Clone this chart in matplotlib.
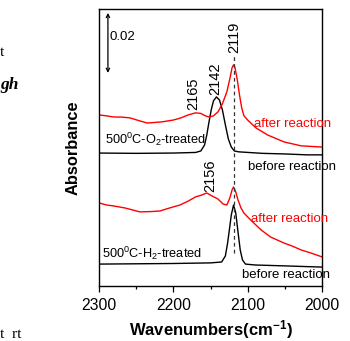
import matplotlib
matplotlib.use("Agg")
import matplotlib.pyplot as plt
from matplotlib.ticker import MultipleLocator

plt.rcParams['font.family'] = ['Liberation Sans', 'DejaVu Sans']
plt.rcParams['mathtext.fontset'] = 'custom'
plt.rcParams['mathtext.rm'] = 'Liberation Sans'
plt.rcParams['mathtext.it'] = 'Liberation Sans:italic'
plt.rcParams['mathtext.bf'] = 'Liberation Sans:bold'

# ---- data (wavenumber cm-1, absorbance) ----
o2_before_wn = [2300, 2250, 2200, 2170, 2163, 2158, 2155, 2152, 2149, 2146, 2142, 2138, 2134,
                2130, 2126, 2122, 2118, 2112, 2080, 2050, 2020, 2000]
o2_before_ab = [0.0443, 0.0442, 0.0443, 0.0445, 0.0450, 0.0470, 0.0503, 0.0547, 0.0587, 0.0617,
                0.0630, 0.0620, 0.0587, 0.0537, 0.0490, 0.0463, 0.0450, 0.0447, 0.0442, 0.0440,
                0.0437, 0.0437]

o2_after_wn = [2300, 2290, 2280, 2270, 2258, 2245, 2235, 2225, 2215, 2200, 2190, 2180, 2170,
               2163, 2157, 2152, 2146, 2140, 2134, 2128, 2124, 2121, 2119, 2117, 2114, 2111,
               2108, 2105, 2100, 2089, 2073, 2051, 2028, 2000]
o2_after_ab = [0.0570, 0.0567, 0.0563, 0.0563, 0.0560, 0.0550, 0.0543, 0.0545, 0.0547, 0.0553,
               0.0560, 0.0570, 0.0577, 0.0575, 0.0567, 0.0563, 0.0567, 0.0580, 0.0607, 0.0647,
               0.0690, 0.0727, 0.0737, 0.0727, 0.0687, 0.0637, 0.0593, 0.0567, 0.0553, 0.0527,
               0.0503, 0.0480, 0.0467, 0.0463]

h2_before_wn = [2300, 2200, 2150, 2135, 2130, 2127, 2125, 2122, 2119, 2116, 2113, 2110, 2107,
                2103, 2090, 2050, 2000]
h2_before_ab = [0.0073, 0.0075, 0.0077, 0.0080, 0.0100, 0.0143, 0.0180, 0.0237, 0.0270, 0.0243,
                0.0180, 0.0120, 0.0087, 0.0073, 0.0070, 0.0067, 0.0063]

h2_after_wn = [2300, 2290, 2281, 2265, 2245, 2230, 2218, 2205, 2191, 2180, 2170, 2162, 2155,
               2148, 2140, 2133, 2128, 2124, 2121, 2119, 2116, 2113, 2109, 2105, 2096, 2082,
               2069, 2051, 2040, 2028, 2015, 2000]
h2_after_ab = [0.0277, 0.0270, 0.0267, 0.0260, 0.0247, 0.0248, 0.0250, 0.0260, 0.0270, 0.0283,
               0.0297, 0.0303, 0.0310, 0.0300, 0.0290, 0.0273, 0.0270, 0.0293, 0.0320, 0.0330,
               0.0313, 0.0287, 0.0260, 0.0243, 0.0220, 0.0187, 0.0163, 0.0143, 0.0133, 0.0120,
               0.0110, 0.0097]

peak_labels = ["2165", "2142", "2119", "2156"]
peak_label_wn = [2173, 2143, 2118, 2150]
peak_label_ab = [0.0587, 0.0637, 0.0777, 0.0313]

xticks = [2300, 2200, 2100, 2000]
scale_bar = 0.02

fig = plt.figure(figsize=(3.5, 3.41), dpi=100)
ax = fig.add_axes([99/350, 55/341, 223/350, 277/341])

black = 'black'
red = '#ff0000'
lw = 1.0
ax.plot(o2_before_wn, o2_before_ab, color=black, lw=lw)
ax.plot(o2_after_wn, o2_after_ab, color=red, lw=lw)
ax.plot(h2_before_wn, h2_before_ab, color=black, lw=lw)
ax.plot(h2_after_wn, h2_after_ab, color=red, lw=lw)

# dashed line at 2119
ax.plot([2119, 2119], [0.0110, 0.0772], color='#333333', lw=0.9, ls=(0, (3, 2.5)))

ax.set_xlim(2300, 2000)
ax.set_ylim(0, 0.0923)
ax.set_xticks(xticks)
ax.set_xticklabels([str(t) for t in xticks], fontsize=11.3)
ax.xaxis.set_minor_locator(MultipleLocator(50))
ax.tick_params(axis='x', which='major', direction='out', length=4.5, width=0.9, pad=4.5)
ax.tick_params(axis='x', which='minor', direction='out', length=2.5, width=0.9)
ax.set_yticks([])
for s in ax.spines.values():
    s.set_linewidth(1.0)

ax.set_xlabel(r'Wavenumbers(cm$^{\mathbf{-1}}$)', fontsize=12, fontweight='bold', labelpad=3)
ax.set_ylabel('Absorbance', fontsize=11.8, fontweight='bold', labelpad=13)

# scale bar
top = 0.0910
ax.annotate('', xy=(2288, top), xytext=(2288, top - scale_bar),
            arrowprops=dict(arrowstyle='<->', color='black', lw=0.9,
                            mutation_scale=6, shrinkA=0, shrinkB=0))
ax.text(2286, 0.0830, '0.02', fontsize=9.5, ha='left', va='center')

for lab, x, y in zip(peak_labels, peak_label_wn, peak_label_ab):
    ax.text(x, y, lab, rotation=90, fontsize=10.5, ha='center', va='bottom')

ax.text(2292, 0.0490, r'500$^{0}$C-O$_{2}$-treated', fontsize=9.2, ha='left', va='center')
ax.text(2296, 0.0110, r'500$^{0}$C-H$_{2}$-treated', fontsize=9.2, ha='left', va='center')
ax.text(2092, 0.0540, 'after reaction', fontsize=9.5, color=red, ha='left', va='center')
ax.text(2095, 0.0223, 'after reaction', fontsize=9.5, color=red, ha='left', va='center')
ax.text(2100, 0.0397, 'before reaction', fontsize=9.5, ha='left', va='center')
ax.text(2108, 0.0037, 'before reaction', fontsize=9.5, ha='left', va='center')

# page fragments at left edge
fig.text(0.0, 1 - 52/341, 't', fontsize=11, family='Liberation Serif', va='center')
fig.text(0.0, 1 - 85/341, 'gh', fontsize=12.5, family='Liberation Serif',
         style='italic', weight='bold', va='center')
fig.text(0.0, 1 - 334/341, 't  rt', fontsize=11, family='Liberation Serif', va='center')

fig.savefig('out.png', dpi=100)
